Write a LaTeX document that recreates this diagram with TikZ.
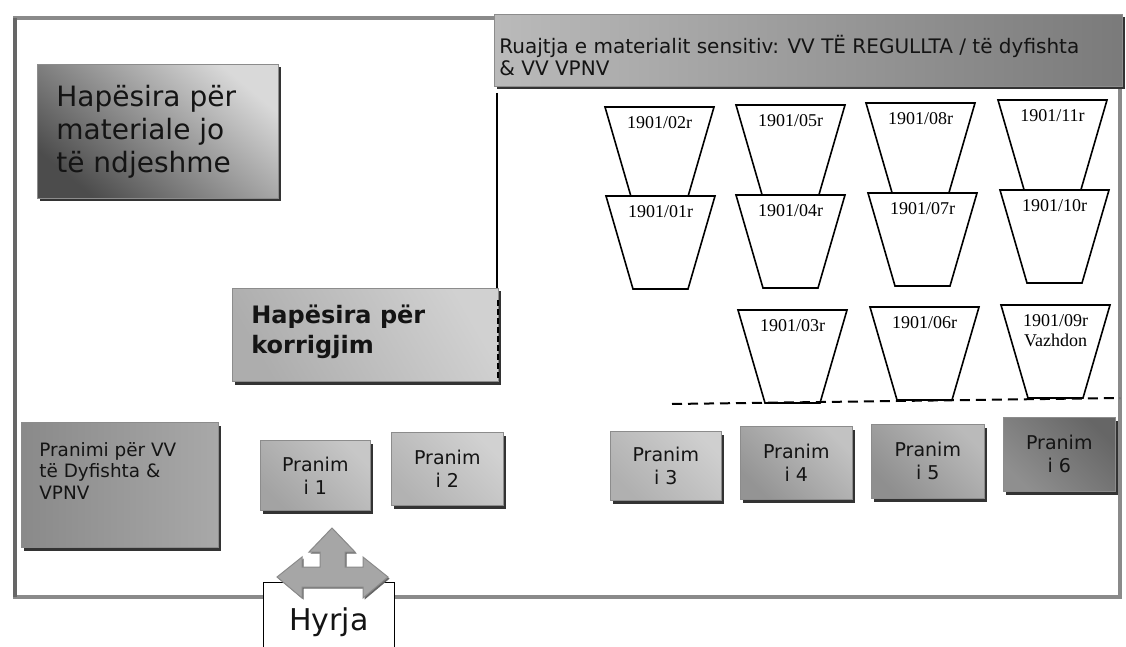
\documentclass[tikz,border=0pt]{standalone}
\usepackage{fontspec}
\setmainfont{DejaVu Sans}
\newfontfamily\tnr{Liberation Serif}
\usetikzlibrary{shadows}
\definecolor{frameg}{HTML}{8A8A8A}
\definecolor{framed}{HTML}{666666}
\definecolor{txt}{HTML}{141414}
\definecolor{arrowg}{HTML}{A6A6A6}
\definecolor{arrowd}{HTML}{8A8A8A}
\newcommand\trapz[4]{%
  \draw[trapline] (#2,#3) -- ++(109,0) -- ++(-27,93) -- ++(-55,0) -- cycle;
  \node[traplabel] (#1) at (#2+54.5,#3+9) {#4};
}
\begin{document}
\begin{tikzpicture}[x=0.5pt,y=-0.5pt,
  box/.style={draw=black!45, line width=0.3pt, inner sep=0pt, anchor=north west,
    drop shadow={shadow xshift=1.2pt, shadow yshift=-1.6pt, fill=black!80, opacity=1}},
  boxtext/.style={anchor=west, align=left, inner sep=0pt, text=txt},
  pranim/.style={box, align=center, text=txt, font=\fontsize{9.5}{11.5}\selectfont},
  trapline/.style={draw=black, fill=white, line width=0.8pt, line join=miter},
  traplabel/.style={anchor=north, align=center, inner sep=0pt, font=\tnr\fontsize{9}{10}\selectfont},
  dashline/.style={draw=black, line width=1pt, dash pattern=on 5pt off 3pt},
  wall/.style={draw=black, line width=0.8pt}
]
\useasboundingbox (0,0) rectangle (1126,647);
\fill[white] (0,0) rectangle (1126,647);

% outer frame
\draw[line width=2pt, draw=frameg] (15,18) rectangle (1120,597);
\draw[line width=2pt, draw=framed] (15,18) -- (15,597);

% top band
\node[box, minimum width=314pt, minimum height=36pt, left color=black!27, right color=black!52] (band) at (494,14) {};
\node[boxtext, font=\fontsize{10}{11}\selectfont] (bandT) at (499,56)
  {Ruajtja e materialit sensitiv: VV TË REGULLTA / të dyfishta\\\& VV VPNV};

% non-sensitive area
\node[box, minimum width=120.5pt, minimum height=67pt, top color=black!15, bottom color=black!70, shading angle=-40] (mat) at (37,64) {};
\node[boxtext, font=\fontsize{14}{16.5}\selectfont] (matT) at (56,132)
  {Hapësira për\\materiale jo\\të ndjeshme};

% wall and correction area
\coordinate (w1) at (497,93);
\coordinate (kd1) at (498,300);
\coordinate (kd2) at (498,378);
\node[box, minimum width=133pt, minimum height=46.5pt, top color=black!18, bottom color=black!32, shading angle=-60] (korr) at (232,288) {};
\draw[wall] (w1) -- (w1 |- korr.north);
\draw[line width=1.3pt, dash pattern=on 3pt off 1.5pt] (kd1) -- (kd2);
\node[boxtext, font=\bfseries\fontsize{12}{15}\selectfont] (korrT) at (251,332)
  {Hapësira për\\korrigjim};

% reception for double VV
\node[box, minimum width=98.5pt, minimum height=62.5pt, left color=black!46, right color=black!34] (pvv) at (21,422) {};
\node[boxtext, font=\fontsize{9.2}{10.8}\selectfont] (pvvT) at (39,471)
  {Pranimi për VV\\të Dyfishta \&\\VPNV};

% reception points
\node[pranim, minimum width=55pt, minimum height=35pt, top color=black!22, bottom color=black!36, shading angle=-45] (p1) at (260,440) {Pranim\\i 1};
\node[pranim, minimum width=56pt, minimum height=36.5pt, top color=black!18, bottom color=black!30, shading angle=-45] (p2) at (391,432) {Pranim\\i 2};
\node[pranim, minimum width=55.5pt, minimum height=34.5pt, top color=black!19, bottom color=black!31, shading angle=-45] (p3) at (610,431) {Pranim\\i 3};
\node[pranim, minimum width=56pt, minimum height=36.5pt, top color=black!24, bottom color=black!42, shading angle=-45] (p4) at (740,426) {Pranim\\i 4};
\node[pranim, minimum width=56.5pt, minimum height=37pt, top color=black!27, bottom color=black!44, shading angle=-45] (p5) at (871,424) {Pranim\\i 5};
\node[pranim, minimum width=56pt, minimum height=37pt, top color=black!60, bottom color=black!44, shading angle=-45] (p6) at (1003,417) {Pranim\\i 6};

% storage trapezoids
\trapz{t02}{605}{107}{1901/02r}
\trapz{t05}{736}{105}{1901/05r}
\trapz{t08}{866}{103}{1901/08r}
\trapz{t11}{998}{100}{1901/11r}
\trapz{t01}{606}{196}{1901/01r}
\trapz{t04}{736}{195}{1901/04r}
\trapz{t07}{868}{193}{1901/07r}
\trapz{t10}{1000}{190}{1901/10r}
\trapz{t03}{738}{310}{1901/03r}
\trapz{t06}{870}{307}{1901/06r}
\trapz{t09}{1001}{305}{1901/09r\\Vazhdon}

% dashed boundary
\coordinate (dl1) at (672,404);
\coordinate (dl2) at (1120,398);
\draw[dashline] (dl1) -- (dl2);

% entrance
\node[draw=black, line width=0.6pt, fill=white, minimum width=65.5pt, minimum height=45pt, anchor=north west, inner sep=0pt] (hyr) at (263,582) {};
\node[inner sep=0pt, text=txt, font=\fontsize{15}{18}\selectfont] (hyrT) at (329,622) {Hyrja};
\draw[fill=arrowg, draw=arrowd, line width=0.5pt, line join=miter,
  drop shadow={shadow xshift=0.8pt, shadow yshift=-0.8pt, fill=black!60, opacity=1}]
  (332,528) -- (355,552) -- (345,552) -- (345,567) -- (363,567) -- (363,557)
  -- (388,577) -- (363,598) -- (363,587) -- (302,587) -- (302,598) -- (277,577)
  -- (302,557) -- (302,567) -- (320,567) -- (320,552) -- (309,552) -- cycle;
\end{tikzpicture}
\end{document}
